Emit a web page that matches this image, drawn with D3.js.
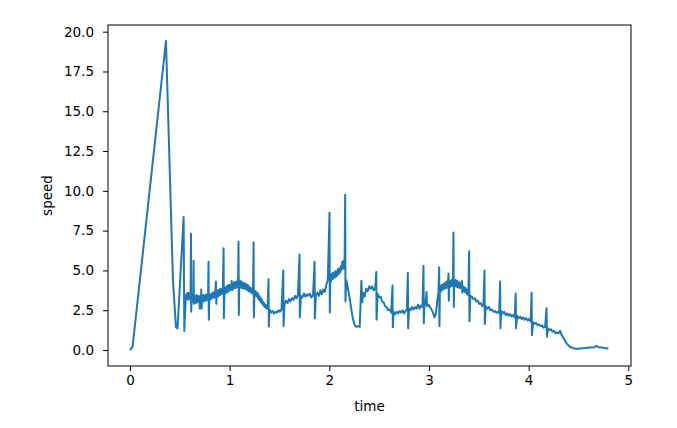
<!DOCTYPE html>
<html>
<head>
<meta charset="utf-8">
<script src="https://cdn.jsdelivr.net/npm/d3@7"></script>
<style>
  body { margin: 0; background: #fff; }
  svg text { font-family: "DejaVu Sans", sans-serif; fill: #000; }
</style>
</head>
<body>
<svg id="chart"></svg>
<script>
// [time, speed] samples, split by stretch of the run
const launch = [
  [0.000, 0.00], [0.026, 0.20], [0.361, 19.42], [0.431, 4.40], [0.461, 1.45],
  [0.477, 1.35], [0.538, 8.35], [0.545, 1.20], [0.560, 3.45]
];

const firstStretch = [
  [0.566, 3.15], [0.572, 3.55], [0.578, 3.20], [0.584, 3.60], [0.590, 3.15], [0.596, 3.50],
  [0.603, 3.25], [0.608, 3.55], [0.612, 7.30], [0.614, 2.40], [0.619, 3.50], [0.624, 3.10],
  [0.629, 3.45], [0.634, 3.05], [0.638, 5.60], [0.641, 2.90], [0.646, 3.45], [0.652, 3.10],
  [0.658, 3.40], [0.664, 2.95], [0.670, 3.45], [0.676, 3.05], [0.682, 3.35], [0.688, 3.00],
  [0.694, 3.40], [0.700, 2.60], [0.706, 3.35], [0.712, 3.10], [0.715, 3.80], [0.719, 2.60],
  [0.724, 3.40], [0.730, 3.10], [0.736, 3.45], [0.742, 3.05], [0.748, 3.40], [0.754, 3.15],
  [0.760, 3.50], [0.766, 3.10], [0.772, 3.45], [0.778, 3.20], [0.783, 3.40], [0.788, 5.55],
  [0.791, 1.90], [0.796, 3.40], [0.802, 3.15], [0.808, 3.50], [0.814, 3.20], [0.820, 3.55],
  [0.826, 3.25], [0.832, 3.60], [0.838, 3.30], [0.844, 3.65], [0.850, 3.30], [0.856, 3.60],
  [0.862, 4.30], [0.866, 2.90], [0.872, 3.65], [0.878, 3.35], [0.884, 3.75], [0.890, 3.40],
  [0.896, 3.80], [0.902, 3.45], [0.908, 3.85], [0.914, 3.50], [0.920, 3.80], [0.926, 3.55],
  [0.932, 3.85], [0.939, 6.40], [0.942, 2.00], [0.948, 3.75], [0.954, 3.55], [0.960, 3.95],
  [0.966, 3.60], [0.972, 4.00], [0.978, 3.65], [0.984, 4.05], [0.990, 3.70], [0.996, 4.10],
  [1.002, 3.75], [1.008, 4.05], [1.014, 3.80], [1.020, 4.35], [1.025, 3.75], [1.031, 4.20],
  [1.037, 3.85], [1.043, 4.25], [1.049, 3.90], [1.055, 4.25], [1.061, 3.90], [1.067, 4.30],
  [1.073, 3.95], [1.079, 4.25], [1.084, 4.00], [1.089, 6.80], [1.092, 2.20], [1.097, 4.10],
  [1.103, 4.35], [1.109, 3.95], [1.115, 4.30], [1.121, 3.90], [1.127, 4.25], [1.133, 3.90],
  [1.139, 4.20], [1.145, 3.85], [1.151, 4.20], [1.157, 3.85], [1.163, 4.15], [1.169, 3.80],
  [1.175, 4.10], [1.181, 3.75], [1.187, 4.05], [1.193, 3.70], [1.199, 3.95], [1.205, 3.65],
  [1.211, 3.90], [1.217, 3.60], [1.223, 3.85], [1.229, 3.55], [1.235, 3.80], [1.240, 6.77],
  [1.243, 2.05], [1.249, 3.70], [1.255, 3.45], [1.261, 3.70], [1.267, 3.40], [1.273, 3.60],
  [1.279, 3.30], [1.285, 3.55], [1.291, 3.20], [1.297, 3.40], [1.303, 3.10], [1.309, 3.30],
  [1.315, 3.00], [1.321, 3.20], [1.327, 2.90], [1.333, 3.05], [1.339, 2.80], [1.345, 2.95],
  [1.351, 2.70], [1.357, 2.85], [1.363, 2.65], [1.369, 2.80], [1.375, 2.60], [1.381, 2.75],
  [1.390, 4.45], [1.393, 1.47], [1.400, 2.55], [1.415, 2.35], [1.430, 2.45], [1.445, 2.30],
  [1.460, 2.40], [1.475, 2.35], [1.490, 2.50], [1.505, 2.40], [1.520, 2.55], [1.538, 5.00],
  [1.541, 1.50], [1.550, 2.85], [1.565, 3.10], [1.580, 2.95], [1.595, 3.20], [1.610, 3.05],
  [1.625, 3.25], [1.640, 3.15], [1.655, 3.40], [1.670, 3.25], [1.685, 3.45], [1.701, 6.00],
  [1.704, 2.05], [1.715, 3.40], [1.730, 3.30], [1.745, 3.55], [1.760, 3.35], [1.775, 3.50],
  [1.790, 3.40], [1.805, 3.55], [1.820, 3.30], [1.837, 3.45], [1.852, 5.55], [1.855, 2.00],
  [1.865, 3.45], [1.880, 3.60], [1.895, 3.40], [1.910, 3.75], [1.925, 3.50], [1.940, 3.80],
  [1.955, 3.65], [1.970, 4.10], [1.985, 4.40], [2.002, 8.63], [2.005, 2.35], [2.010, 4.60],
  [2.016, 4.30], [2.022, 4.75], [2.028, 4.45], [2.034, 4.85], [2.040, 4.50], [2.046, 4.80],
  [2.052, 4.55], [2.058, 4.95], [2.064, 4.60], [2.070, 4.90], [2.076, 4.65], [2.082, 5.05],
  [2.088, 4.75], [2.094, 5.10], [2.100, 4.80], [2.106, 5.15], [2.112, 4.90], [2.118, 5.30],
  [2.124, 5.05], [2.130, 5.55], [2.136, 5.20], [2.142, 5.60], [2.148, 5.10], [2.153, 5.30],
  [2.159, 9.75], [2.162, 3.05]
];

const dip = [
  [2.170, 4.40], [2.180, 4.10], [2.195, 3.60], [2.215, 2.80], [2.235, 2.00], [2.255, 1.55],
  [2.270, 1.45], [2.290, 1.50], [2.305, 1.45], [2.322, 4.35], [2.330, 3.00]
];

const secondStretch = [
  [2.340, 3.60], [2.355, 3.35], [2.370, 3.85], [2.385, 3.70], [2.400, 4.00], [2.415, 3.85],
  [2.430, 4.00], [2.445, 3.75], [2.460, 3.85], [2.471, 4.90], [2.474, 1.90], [2.485, 3.55],
  [2.500, 3.30], [2.515, 3.35], [2.530, 3.05], [2.545, 3.00], [2.560, 2.75], [2.575, 2.70],
  [2.590, 2.50], [2.605, 2.55], [2.620, 2.35], [2.634, 4.05], [2.637, 1.43], [2.645, 2.40],
  [2.660, 2.25], [2.675, 2.40], [2.690, 2.30], [2.705, 2.45], [2.720, 2.35], [2.735, 2.50],
  [2.750, 2.30], [2.765, 2.45], [2.778, 2.55], [2.788, 4.86], [2.791, 1.36], [2.800, 2.60],
  [2.815, 2.50], [2.830, 2.70], [2.845, 2.55], [2.860, 2.70], [2.875, 2.60], [2.890, 2.85],
  [2.905, 2.60], [2.920, 2.80], [2.935, 2.70], [2.945, 5.30], [2.948, 1.68], [2.955, 2.80],
  [2.965, 2.95], [2.975, 3.65], [2.980, 2.75], [2.995, 2.85], [3.010, 2.70], [3.025, 2.55],
  [3.040, 2.35], [3.055, 2.05], [3.070, 2.30], [3.085, 3.20], [3.095, 3.60], [3.102, 5.20],
  [3.105, 1.50], [3.110, 3.95], [3.116, 3.65], [3.122, 4.05], [3.128, 3.75], [3.134, 4.10],
  [3.140, 3.80], [3.146, 4.15], [3.152, 3.85], [3.158, 4.20], [3.164, 3.90], [3.170, 4.25],
  [3.176, 3.90], [3.182, 4.30], [3.188, 4.00], [3.196, 4.80], [3.199, 3.10], [3.204, 4.25],
  [3.210, 3.95], [3.216, 4.35], [3.222, 4.00], [3.228, 4.40], [3.234, 4.05], [3.240, 4.30],
  [3.246, 7.38], [3.249, 2.70], [3.254, 4.35], [3.260, 4.00], [3.266, 4.40], [3.272, 4.00],
  [3.278, 4.35], [3.284, 3.95], [3.290, 4.30], [3.296, 3.95], [3.302, 4.25], [3.308, 3.90],
  [3.314, 4.20], [3.320, 3.90], [3.330, 4.35], [3.335, 3.60], [3.341, 4.00], [3.347, 3.70],
  [3.353, 3.95], [3.359, 3.65], [3.365, 3.90], [3.371, 3.60], [3.377, 3.80], [3.383, 3.50],
  [3.389, 3.70], [3.395, 3.45], [3.403, 6.20], [3.406, 1.80], [3.415, 3.40], [3.430, 3.35],
  [3.445, 3.20], [3.460, 3.25], [3.475, 3.05], [3.490, 3.10], [3.505, 2.90], [3.520, 2.95],
  [3.535, 2.75], [3.547, 2.85], [3.557, 5.00], [3.560, 1.63], [3.570, 2.75], [3.585, 2.60],
  [3.600, 2.70], [3.615, 2.50], [3.630, 2.55], [3.645, 2.40], [3.660, 2.45], [3.675, 2.35],
  [3.690, 2.40], [3.704, 2.30], [3.714, 4.30], [3.717, 1.36], [3.725, 2.45], [3.740, 2.30],
  [3.755, 2.40], [3.770, 2.20], [3.785, 2.30], [3.800, 2.15], [3.815, 2.25], [3.830, 2.10],
  [3.845, 2.20], [3.860, 2.05], [3.870, 3.55], [3.873, 1.36], [3.885, 2.15], [3.900, 2.00],
  [3.915, 2.10], [3.930, 1.95], [3.945, 2.05], [3.960, 1.90], [3.975, 2.00], [3.990, 1.85],
  [4.005, 1.95], [4.020, 1.80], [4.030, 3.60], [4.033, 0.94], [4.045, 1.75], [4.060, 1.65],
  [4.075, 1.70], [4.090, 1.55], [4.105, 1.60], [4.120, 1.50], [4.135, 1.55], [4.150, 1.40],
  [4.165, 1.45], [4.180, 2.62], [4.183, 0.84], [4.195, 1.35], [4.210, 1.25], [4.225, 1.30],
  [4.240, 1.15], [4.255, 1.20], [4.270, 1.05], [4.285, 1.10]
];

const coastDown = [
  [4.300, 1.05], [4.316, 1.20], [4.330, 0.95], [4.350, 0.75], [4.380, 0.42], [4.410, 0.22],
  [4.440, 0.13], [4.470, 0.08], [4.520, 0.10], [4.570, 0.12], [4.620, 0.16], [4.660, 0.18],
  [4.680, 0.27], [4.700, 0.17], [4.740, 0.15], [4.780, 0.11], [4.800, 0.08]
];

const xTicks = [0, 1, 2, 3, 4, 5];
const yTicks = [0, 2.5, 5, 7.5, 10, 12.5, 15, 17.5, 20];

const samples = [...launch, ...firstStretch, ...dip, ...secondStretch, ...coastDown];

const width = 677;
const height = 428;
const margin = { top: 25, right: 46, bottom: 62, left: 108 };

const svg = d3.select("#chart").attr("width", width).attr("height", height);

const xScale = d3
  .scaleLinear()
  .domain([-0.2207, 5.027])
  .range([margin.left, width - margin.right]);

const yScale = d3
  .scaleLinear()
  .domain([-1.005, 20.42])
  .range([height - margin.bottom, margin.top]);

const line = d3
  .line()
  .x((d) => xScale(d[0]))
  .y((d) => yScale(d[1]));

svg
  .append("path")
  .datum(samples)
  .attr("fill", "none")
  .attr("stroke", "#1f77b4")
  .attr("stroke-width", 2)
  .attr("stroke-linejoin", "round")
  .attr("stroke-linecap", "butt")
  .attr("d", line);

const xAxis = d3
  .axisBottom(xScale)
  .tickValues(xTicks)
  .tickFormat(d3.format("d"))
  .tickSizeInner(5)
  .tickSizeOuter(0)
  .tickPadding(4);

const yAxis = d3
  .axisLeft(yScale)
  .tickValues(yTicks)
  .tickFormat(d3.format(".1f"))
  .tickSizeInner(5)
  .tickSizeOuter(0)
  .tickPadding(9);

const gx = svg
  .append("g")
  .attr("transform", `translate(0, ${height - margin.bottom})`)
  .call(xAxis);

const gy = svg
  .append("g")
  .attr("transform", `translate(${margin.left}, 0)`)
  .call(yAxis);

[gx, gy].forEach((g) => {
  g.select(".domain").remove();
  g.selectAll(".tick line").attr("stroke", "#000").attr("stroke-width", 1);
  g.selectAll(".tick text")
    .attr("fill", "#000")
    .style("font-size", "13.5px")
    .style("font-family", "DejaVu Sans, sans-serif");
});

// axes frame
svg
  .append("rect")
  .attr("x", margin.left)
  .attr("y", margin.top)
  .attr("width", width - margin.left - margin.right)
  .attr("height", height - margin.top - margin.bottom)
  .attr("fill", "none")
  .attr("stroke", "#000")
  .attr("stroke-width", 1);

svg
  .append("text")
  .attr("x", (margin.left + width - margin.right) / 2)
  .attr("y", 411)
  .attr("text-anchor", "middle")
  .style("font-size", "13.5px")
  .text("time");

svg
  .append("text")
  .attr("transform", `translate(51.5, ${(margin.top + height - margin.bottom) / 2}) rotate(-90)`)
  .attr("text-anchor", "middle")
  .style("font-size", "13.5px")
  .text("speed");
</script>
</body>
</html>
